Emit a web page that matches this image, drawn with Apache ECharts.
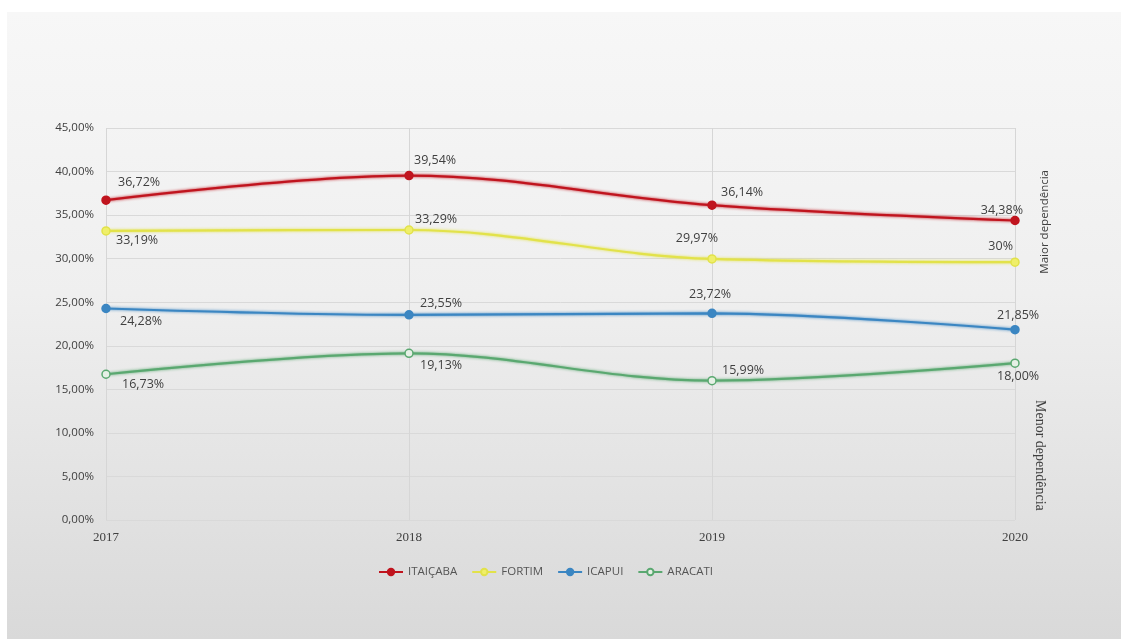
<!DOCTYPE html>
<html>
<head>
    <meta charset="UTF-8">
    <title>Dependência</title>
    <script src="https://cdn.jsdelivr.net/npm/echarts@6/dist/echarts.min.js"></script>
    <style>
        html, body { margin: 0; padding: 0; background: #fff; }
        #main {
            position: absolute;
            left: 7px;
            top: 12px;
            width: 1114px;
            height: 627px;
            background: linear-gradient(#f7f7f7 0%, #efefef 45%, #d9d9d9 100%);
        }
    </style>
</head>
<body>
<div id="main"></div>
<script type="text/javascript">
    // anos e valores (%)
    var anos = ['2017', '2018', '2019', '2020'];
    var itaicaba = [36.72, 39.54, 36.14, 34.38];
    var fortim = [33.19, 33.29, 29.97, 29.6];
    var icapui = [24.28, 23.55, 23.72, 21.85];
    var aracati = [16.73, 19.13, 15.99, 18.00];
    // textos dos rótulos como aparecem no gráfico
    var rotFortim = ['33,19%', '33,29%', '29,97%', '30%'];

    function pct(v) { return v.toFixed(2).replace('.', ',') + '%'; }

    // offs: [dx, dy, alinhamento]
    function pontos(vals, offs, textos) {
        return vals.map(function (v, i) {
            return {
                value: v,
                label: {
                    show: true,
                    position: 'inside',
                    offset: [offs[i][0], offs[i][1]],
                    align: offs[i][2] || 'left',
                    formatter: textos ? textos[i] : pct(v)
                }
            };
        });
    }

    var labelBase = { color: '#404040', fontSize: 12.5, fontFamily: 'Open Sans' };

    function serie(nome, vals, cor, fill, offs, textos) {
        return {
            name: nome,
            type: 'line',
            smooth: 0.35,
            data: pontos(vals, offs, textos),
            symbol: 'circle',
            symbolSize: 8,
            lineStyle: { color: cor, width: 2.2, shadowColor: cor, shadowBlur: 3 },
            itemStyle: { color: fill, borderColor: cor, borderWidth: 1.5 },
            label: labelBase,
            emphasis: { disabled: true }
        };
    }

    var myChart = echarts.init(document.getElementById('main'));
    var option = {
        animation: false,
        grid: { left: 99, right: 106, top: 116, bottom: 119 },
        legend: {
            top: 549,
            left: 366,
            itemWidth: 24,
            itemHeight: 8,
            itemGap: 14,
            textStyle: { color: '#555', fontSize: 11.5, fontFamily: 'Open Sans' },
            data: ['ITAIÇABA', 'FORTIM', 'ICAPUI', 'ARACATI']
        },
        xAxis: {
            type: 'category',
            data: anos,
            boundaryGap: false,
            axisLine: { show: false },
            axisTick: { show: false },
            axisLabel: { color: '#404040', fontSize: 13, fontFamily: 'Liberation Serif', margin: 11 },
            splitLine: { show: true, lineStyle: { color: '#d6d6d6', width: 1 } }
        },
        yAxis: {
            type: 'value',
            min: 0,
            max: 45,
            interval: 5,
            axisLine: { show: false },
            axisTick: { show: false },
            axisLabel: {
                color: '#404040', fontSize: 11.5, fontFamily: 'Open Sans', margin: 12,
                formatter: function (v) { return pct(v); }
            },
            splitLine: { lineStyle: { color: '#d9d9d9', width: 1 } }
        },
        graphic: [
            {
                type: 'text', left: 1032, top: 158, rotation: Math.PI / 2,
                style: { text: 'Maior dependência', fill: '#404040', fontSize: 11.5, fontFamily: 'Open Sans' }
            },
            {
                type: 'text', left: 1026, top: 388, rotation: -Math.PI / 2,
                style: { text: 'Menor dependência', fill: '#404040', fontSize: 14, fontFamily: 'Liberation Serif' }
            }
        ],
        series: [
            serie('ITAIÇABA', itaicaba, '#c0141e', '#c0141e',
                [[12, -18], [5, -15], [9, -13], [8, -10, 'right']]),
            serie('FORTIM', fortim, '#e2e24a', '#efef6a',
                [[10, 10], [6, -11], [6, -20, 'right'], [-2, -16, 'right']], rotFortim),
            serie('ICAPUI', icapui, '#3b86c2', '#3b86c2',
                [[14, 13], [11, -11], [-23, -19], [-18, -14]]),
            serie('ARACATI', aracati, '#5aa870', '#e6f0e6',
                [[16, 10], [11, 12], [10, -10], [-18, 13]])
        ]
    };
    myChart.setOption(option);
</script>
</body>
</html>
